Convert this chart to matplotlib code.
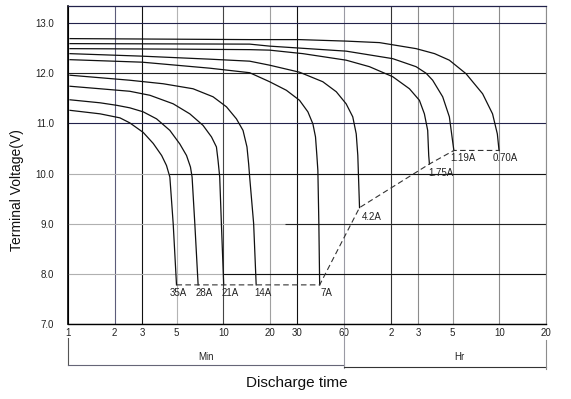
import matplotlib
matplotlib.use('Agg')
import matplotlib.pyplot as plt
import matplotlib.transforms as mtransforms

FONT = ['Liberation Sans Narrow', 'Liberation Sans', 'DejaVu Sans']
plt.rcParams['font.family'] = FONT

# ---------------- data ----------------
x_ticks = [1, 2, 3, 5, 10, 20, 30, 60, 120, 180, 300, 600, 1200]   # minutes
x_tick_labels = ['1', '2', '3', '5', '10', '20', '30', '60', '2', '3', '5', '10', '20']
y_ticks = [7.0, 8.0, 9.0, 10.0, 11.0, 12.0, 13.0]
y_tick_labels = ['7.0', '8.0', '9.0', '10.0', '11.0', '12.0', '13.0']

currents = ['35A', '28A', '21A', '14A', '7A', '4.2A', '1.75A', '1.19A', '0.70A']

t_35a = [1.03, 1.61, 2.16, 2.50, 3.05, 3.54, 4.01, 4.31, 4.53, 4.76, 5.0]
v_35a = [11.26, 11.19, 11.11, 11.01, 10.82, 10.60, 10.36, 10.16, 9.93, 9.0, 7.78]

t_28a = [1.03, 1.61, 2.06, 2.50, 3.05, 3.72, 4.53, 5.25, 5.80, 6.15, 6.30, 6.56, 6.89]
v_28a = [11.47, 11.41, 11.36, 11.31, 11.23, 11.09, 10.86, 10.59, 10.36, 10.13, 9.93, 9.0, 7.78]

t_21a = [1.03, 1.61, 2.50, 3.37, 4.76, 6.09, 7.41, 8.40, 9.04, 9.26, 9.49, 9.73, 10.07]
v_21a = [11.74, 11.69, 11.64, 11.56, 11.39, 11.19, 10.96, 10.73, 10.53, 10.26, 9.93, 9.0, 7.78]

t_14a = [1.03, 1.61, 2.50, 4.10, 6.39, 8.60, 10.49, 12.16, 13.41, 14.22, 14.58, 14.8, 15.7, 16.3]
v_14a = [11.96, 11.91, 11.86, 11.79, 11.69, 11.53, 11.33, 11.09, 10.86, 10.53, 10.19, 9.93, 9.0, 7.78]

t_7a = [1.03, 3.0, 8.2, 14.8, 19.9, 25.5, 31.0, 35.1, 37.8, 39.3, 40.1, 40.7, 41.3, 41.8]
v_7a = [12.27, 12.22, 12.10, 12.01, 11.83, 11.66, 11.46, 11.23, 10.99, 10.73, 10.36, 10.06, 9.0, 7.78]

t_4a2 = [1.03, 3.0, 8.2, 14.8, 19.9, 31.0, 43.8, 53.5, 61.9, 68.3, 71.9, 73.6, 75.5]
v_4a2 = [12.39, 12.34, 12.28, 12.24, 12.16, 12.02, 11.83, 11.63, 11.39, 11.13, 10.79, 10.36, 9.32]

t_1a75 = [1.03, 5.0, 14.8, 19.9, 32.6, 61.9, 87.5, 123.6, 158.3, 183.5, 197.6, 207.5, 210.7, 212.9]
v_1a75 = [12.49, 12.48, 12.47, 12.46, 12.39, 12.26, 12.13, 11.93, 11.69, 11.46, 11.19, 10.86, 10.36, 10.19]

t_1a19 = [1.03, 14.8, 19.9, 61.9, 123.6, 174.7, 202.6, 223.4, 259.2, 286.2, 297.8, 306.0]
v_1a19 = [12.59, 12.58, 12.54, 12.44, 12.29, 12.13, 12.0, 11.86, 11.53, 11.13, 10.73, 10.46]

t_0a70 = [1.03, 14.8, 31.0, 61.9, 101.5, 174.7, 230.0, 286.0, 366.5, 468.7, 543.0, 583.0, 598.0]
v_0a70 = [12.69, 12.67, 12.67, 12.64, 12.61, 12.49, 12.39, 12.26, 11.99, 11.59, 11.19, 10.79, 10.46]

curves_t = [t_35a, t_28a, t_21a, t_14a, t_7a, t_4a2, t_1a75, t_1a19, t_0a70]
curves_v = [v_35a, v_28a, v_21a, v_14a, v_7a, v_4a2, v_1a75, v_1a19, v_0a70]

cutoff_t = [5.0, 41.8, 75.5, 212.9, 306.0, 598.0]
cutoff_v = [7.78, 7.78, 9.32, 10.19, 10.46, 10.46]

# ---------------- styling ----------------
label_offsets = [(1.5, -2), (4.5, -2), (5, -2), (5, -2), (5, -2),
                 (1.5, -3), (-0.5, -3), (-2.5, -2), (-4.5, -2)]
label_ha = ['center'] * 5 + ['left'] * 4

vgrid_colors = ['#000000', '#5c5c7a', '#111111', '#b4b4b4', '#444444', '#a0a0a0',
                '#111111', '#9a9aa4', '#333333', '#8c8c8c', '#999999', '#8c8c8c', '#8c8c8c']
hgrid_colors = ['#000000', '#b0b0b0', '#b0b0b0', '#b0b0b0', '#22224a', '#222222', '#22224a']

fig = plt.figure(figsize=(5.71, 3.99), dpi=100)
ax = fig.add_axes([68 / 571, 1 - 324 / 399, (546 - 68) / 571, 318 / 399])
ax.set_xscale('log')
ax.set_xlim(1, 1200)
ax.set_ylim(7.0, 13.34)

for xv, c in zip(x_ticks, vgrid_colors):
    ax.axvline(xv, color=c, lw=0.8, zorder=1)
for yv, c in zip(y_ticks, hgrid_colors):
    ax.axhline(yv, color=c, lw=0.8, zorder=1)
# darker right-hand portions of some gridlines (scan look)
ax.hlines(10.0, 4.5, 1200, color='#111111', lw=0.8, zorder=1.1)
ax.hlines(9.0, 25, 1200, color='#222222', lw=0.8, zorder=1.1)
ax.hlines(8.0, 10, 1200, color='#111111', lw=0.8, zorder=1.1)

for t, v in zip(curves_t, curves_v):
    ax.plot(t, v, color='#111111', lw=0.9, zorder=3, solid_joinstyle='round')

ax.plot(cutoff_t, cutoff_v, color='#333333', lw=0.8, dashes=(5, 3), zorder=3)

for name, t, v, off, ha in zip(currents, curves_t, curves_v, label_offsets, label_ha):
    ax.annotate(name, xy=(t[-1], v[-1]), xytext=off, textcoords='offset points',
                ha=ha, va='top', fontsize=7, color='#222222', zorder=4)

ax.set_xticks(x_ticks)
ax.set_xticklabels(x_tick_labels)
ax.set_xticks([], minor=True)
ax.set_yticks(y_ticks)
ax.set_yticklabels(y_tick_labels)
ax.tick_params(axis='x', length=0, pad=3, labelsize=7, labelcolor='#222222')
ax.tick_params(axis='y', length=0, pad=10, labelsize=7, labelcolor='#222222')

ax.spines['left'].set_color('#000000')
ax.spines['left'].set_linewidth(1.2)
ax.spines['bottom'].set_color('#000000')
ax.spines['bottom'].set_linewidth(1.0)
ax.spines['top'].set_color('#22224a')
ax.spines['top'].set_linewidth(0.9)
ax.spines['right'].set_color('#8c8c8c')
ax.spines['right'].set_linewidth(0.8)

# Min / Hr bracket under the axis
trans = mtransforms.blended_transform_factory(ax.transData, ax.transAxes)
bk = dict(transform=trans, clip_on=False, lw=0.8)
ax.plot([1, 1], [-0.044, -0.130], color='#555555', **bk)
ax.plot([1, 60], [-0.129, -0.129], color='#666677', **bk)
ax.plot([60, 60], [0, -0.138], color='#9a9aa4', **bk)
ax.plot([60, 1200], [-0.135, -0.135], color='#333333', **bk)
ax.plot([1200, 1200], [-0.05, -0.140], color='#8c8c8c', **bk)
ax.text(7.75, -0.104, 'Min', transform=trans, ha='center', va='center', fontsize=7, color='#222222')
ax.text(330, -0.104, 'Hr', transform=trans, ha='center', va='center', fontsize=7, color='#222222')

fig.text(297 / 571, 1 - 383 / 399, 'Discharge time', ha='center', va='center', fontsize=11, color='#111111')
fig.text(16.7 / 571, 1 - 190 / 399, 'Terminal Voltage(V)', ha='center', va='center',
         rotation=90, fontsize=10, color='#111111')

fig.savefig('out.png', dpi=100, facecolor='white')
